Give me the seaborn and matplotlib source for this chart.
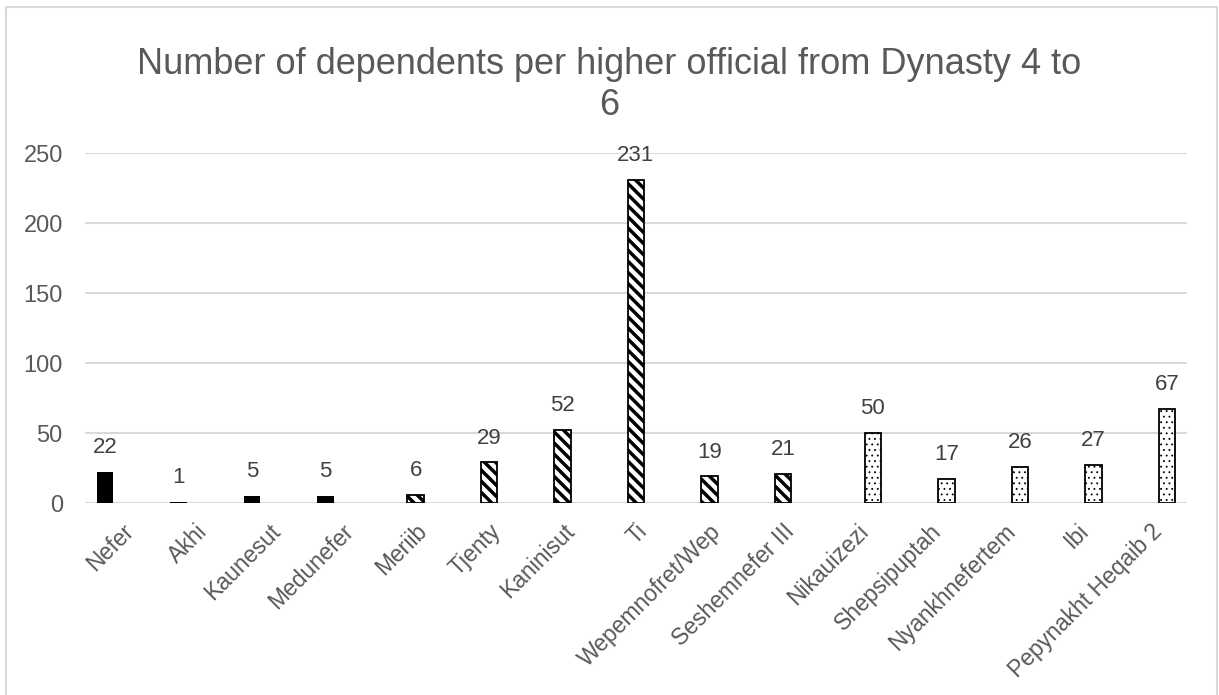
import matplotlib
matplotlib.use("Agg")
import matplotlib.pyplot as plt
import matplotlib.patches as mpatches
import seaborn as sns
import pandas as pd

# Officials and their dependent counts, grouped by fill style
names = ["Nefer", "Akhi", "Kaunesut", "Medunefer", "Meriib", "Tjenty", "Kaninisut",
         "Ti", "Wepemnofret/Wep", "Seshemnefer III", "Nikauizezi", "Shepsipuptah",
         "Nyankhnefertem", "Ibi", "Pepynakht Heqaib 2"]
dependents = [22, 1, 5, 5, 6, 29, 52, 231, 19, 21, 50, 17, 26, 27, 67]
groups = ["A", "A", "A", "A", "B", "B", "B", "B", "B", "B", "C", "C", "C", "C", "C"]
group_order = ["A", "B", "C"]
y_ticks = [0, 50, 100, 150, 200, 250]
title = "Number of dependents per higher official from Dynasty 4 to\n6"

df = pd.DataFrame({"name": names, "count": dependents, "group": groups})

sns.set_theme(style="white")
plt.rcParams["font.family"] = ["Liberation Sans", "DejaVu Sans"]
plt.rcParams["hatch.linewidth"] = 2.5

tick_color = "#595959"
label_color = "#404040"
grid_color = "#d9d9d9"

fig = plt.figure(figsize=(12.19, 6.95), dpi=100)
ax = fig.add_axes([85 / 1219, 1 - 503 / 695, 1102 / 1219, 350 / 695])

sns.barplot(data=df, x="name", y="count", hue="group", hue_order=group_order,
            order=names, dodge=True, width=0.675, palette=["black", "white", "white"],
            edgecolor="black", linewidth=1.3, legend=False, ax=ax, errorbar=None)

# fill style per group: (hatch pattern, hatch line width)
styles = [(None, None), ("\\\\\\", 2.5), ("...", 0.6)]
for cont, (h, hlw) in zip(ax.containers, styles):
    for p in cont.patches:
        if h is None:
            p.set_linewidth(0)
        else:
            p.set_hatch(h)
            if hasattr(p, "set_hatch_linewidth"):
                p.set_hatch_linewidth(hlw)
    ax.bar_label(cont, fmt="%d", padding=10, fontsize=16, color=label_color)

ax.set_ylim(0, 250)
ax.set_xlim(-0.5, len(names) - 0.5)
ax.set_yticks(y_ticks)
ax.set_ylabel("")
ax.set_xlabel("")
ax.yaxis.grid(True, color=grid_color, linewidth=1.5)
ax.set_axisbelow(True)
for s in ax.spines.values():
    s.set_visible(False)
ax.axhline(0, color=grid_color, linewidth=1.5, zorder=0.5)
ax.tick_params(axis="both", length=0, labelcolor=tick_color)
ax.tick_params(axis="y", pad=16, labelsize=17)
ax.tick_params(axis="x", pad=12, labelsize=16.5)
for lab in ax.get_xticklabels():
    lab.set_rotation(45)
    lab.set_ha("right")
    lab.set_rotation_mode("anchor")

fig.text(0.5, 1 - 123 / 695, title, ha="center", va="bottom", fontsize=26,
         color=tick_color, linespacing=1.22)
fig.patches.append(mpatches.Rectangle((6 / 1219, -0.05), 1211 / 1219, 1.05 - 7 / 695,
                                      transform=fig.transFigure, fill=False,
                                      edgecolor=grid_color, linewidth=1.5))

fig.savefig("out.png", dpi=100)
